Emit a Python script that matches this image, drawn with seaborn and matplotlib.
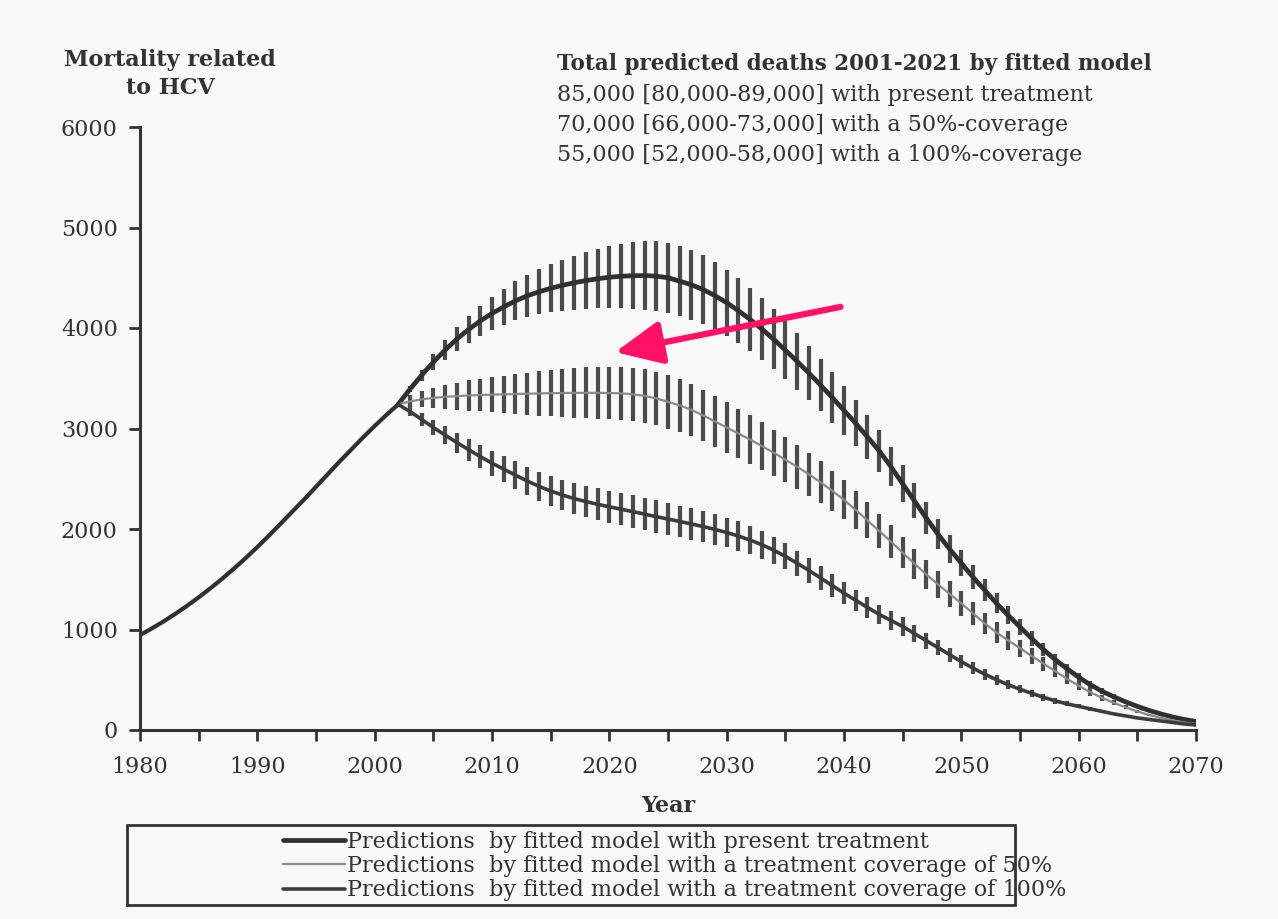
import matplotlib
matplotlib.use("Agg")
import matplotlib.pyplot as plt
from matplotlib.lines import Line2D
from matplotlib.patches import Rectangle
import numpy as np
import pandas as pd
import seaborn as sns

# Observed/fitted mortality before the scenarios diverge
base_years = list(range(1980, 2003))
base_deaths = [945, 1010, 1080, 1155, 1235, 1320, 1410, 1505, 1605, 1710,
               1820, 1935, 2055, 2175, 2295, 2420, 2545, 2670, 2790, 2910,
               3025, 3135, 3240]

# Projection years (one point and one interval per year)
proj_years = list(range(2002, 2071))

present_deaths = [3240, 3390, 3530, 3660, 3780, 3890, 3985, 4070, 4145, 4210,
                  4270, 4320, 4360, 4395, 4425, 4450, 4472, 4490, 4505, 4515,
                  4520, 4522, 4516, 4500, 4466, 4430, 4382, 4322, 4252, 4172,
                  4085, 3990, 3888, 3780, 3668, 3552, 3432, 3308, 3180, 3050,
                  2916, 2778, 2620, 2450, 2280, 2110, 1950, 1800, 1660, 1520,
                  1390, 1260, 1140, 1025, 910, 800, 700, 610, 525, 450,
                  385, 330, 280, 235, 195, 160, 130, 105, 85]
present_err = [0, 30, 55, 80, 100, 118, 135, 150, 165, 180,
               195, 210, 225, 240, 255, 268, 282, 295, 308, 320,
               332, 342, 348, 350, 350, 347, 342, 336, 330, 323,
               316, 308, 300, 291, 282, 272, 262, 251, 240, 229,
               218, 207, 196, 185, 174, 163, 152, 141, 130, 120,
               110, 100, 90, 81, 72, 64, 56, 49, 42, 36,
               30, 25, 20, 16, 13, 10, 8, 6, 4]

cov50_deaths = [3240, 3270, 3290, 3305, 3315, 3322, 3328, 3333, 3337, 3340,
                3343, 3346, 3349, 3351, 3353, 3354, 3355, 3355, 3353, 3350,
                3340, 3325, 3300, 3265, 3230, 3185, 3130, 3070, 3010, 2950,
                2890, 2825, 2760, 2690, 2620, 2545, 2465, 2380, 2290, 2190,
                2085, 1980, 1875, 1765, 1655, 1550, 1450, 1355, 1260, 1160,
                1060, 970, 890, 815, 735, 660, 585, 510, 440, 375,
                320, 270, 225, 185, 150, 120, 95, 75, 60]
cov50_err = [0, 60, 80, 100, 120, 135, 150, 162, 175, 187,
             198, 210, 220, 230, 238, 245, 252, 257, 261, 264,
             266, 267, 267, 266, 264, 261, 257, 253, 249, 245,
             240, 235, 230, 225, 219, 213, 207, 200, 193, 186,
             179, 172, 164, 157, 150, 143, 136, 129, 122, 115,
             108, 100, 92, 84, 76, 68, 60, 52, 45, 38,
             32, 26, 21, 16, 12, 9, 7, 5, 4]

cov100_deaths = [3240, 3170, 3090, 3010, 2935, 2860, 2790, 2720, 2655, 2595,
                 2535, 2478, 2425, 2378, 2338, 2303, 2273, 2246, 2221, 2197,
                 2173, 2148, 2123, 2099, 2075, 2050, 2024, 1996, 1965, 1930,
                 1890, 1843, 1790, 1728, 1660, 1588, 1513, 1437, 1362, 1290,
                 1220, 1150, 1090, 1030, 960, 890, 820, 750, 680, 615,
                 555, 500, 450, 405, 365, 325, 290, 260, 235, 210,
                 185, 160, 140, 120, 105, 90, 75, 60, 50]
cov100_err = [0, 50, 65, 78, 90, 100, 110, 118, 125, 131,
              137, 142, 146, 150, 153, 156, 158, 160, 161, 162,
              162, 162, 161, 160, 158, 156, 154, 151, 148, 145,
              142, 138, 134, 130, 126, 122, 118, 114, 110, 106,
              102, 98, 94, 90, 85, 80, 75, 70, 65, 60,
              55, 50, 45, 40, 36, 32, 28, 24, 20, 17,
              14, 11, 9, 7, 6, 5, 4, 3, 3]

scenario_labels = [
    "Predictions  by fitted model with present treatment",
    "Predictions  by fitted model with a treatment coverage of 50%",
    "Predictions  by fitted model with a treatment coverage of 100%",
]
x_ticks = list(range(1980, 2071, 5))
y_ticks = list(range(0, 6001, 1000))

header_title = "Total predicted deaths 2001-2021 by fitted model"
header_lines = [
    "85,000 [80,000-89,000] with present treatment",
    "70,000 [66,000-73,000] with a 50%-coverage",
    "55,000 [52,000-58,000] with a 100%-coverage",
]

sns.set_style("ticks")
plt.rcParams["font.family"] = ["DejaVu Serif"]

paper = "#f8f8f8"
ink = "#333333"

fig = plt.figure(figsize=(12.78, 9.19), dpi=100, facecolor=paper)
ax = fig.add_axes([140 / 1278, 1 - 730 / 919, 1056 / 1278, 603 / 919])
ax.set_facecolor(paper)

scenarios = [
    (present_deaths, present_err, "#303030", 3.4),
    (cov50_deaths, cov50_err, "#8a8a8a", 1.6),
    (cov100_deaths, cov100_err, "#3c3c3c", 2.6),
]

# Yearly uncertainty intervals, drawn under the lines
for deaths, err, color, lw in scenarios:
    d = np.array(deaths, dtype=float)
    e = np.array(err, dtype=float)
    ax.vlines(proj_years, d - e, d + e, color="#4b4b4b", lw=3.0, zorder=2)

base_df = pd.DataFrame({"year": base_years, "deaths": base_deaths})
sns.lineplot(data=base_df, x="year", y="deaths", ax=ax, color="#303030",
             lw=3.0, zorder=3)

for (deaths, err, color, lw), label in zip(scenarios, scenario_labels):
    df = pd.DataFrame({"year": proj_years, "deaths": deaths})
    sns.lineplot(data=df, x="year", y="deaths", ax=ax, color=color, lw=lw,
                 zorder=3)

ax.set_xlim(1980, 2070)
ax.set_ylim(0, 6000)
ax.set_xticks(x_ticks)
ax.set_xticklabels([str(y) if y % 10 == 0 else "" for y in x_ticks])
ax.set_yticks(y_ticks)
ax.set_yticklabels([str(v) for v in y_ticks])
ax.tick_params(axis="both", length=8, width=2, direction="out", color=ink,
               labelcolor=ink, labelsize=16)
ax.tick_params(axis="x", pad=11)
ax.tick_params(axis="y", pad=8)
for side in ["top", "right"]:
    ax.spines[side].set_visible(False)
for side in ["left", "bottom"]:
    ax.spines[side].set_linewidth(2.2)
    ax.spines[side].set_color(ink)

ax.set_xlabel("Year", fontsize=16, fontweight="bold", color=ink, labelpad=12)
ax.set_ylabel("")

# Arrow pointing at the gap between the scenarios
ax.annotate("", xy=(2020.5, 3760), xytext=(2039.7, 4210),
            arrowprops=dict(arrowstyle="-|>,head_length=2.6,head_width=1.2",
                            mutation_scale=11, lw=4.5, color="#ff1166",
                            shrinkA=0, shrinkB=0), zorder=5)

# Axis title above the y axis
fig.text(170 / 1278, 1 - 74 / 919, "Mortality related\nto HCV", ha="center",
         va="center", fontsize=16, fontweight="bold", color=ink,
         linespacing=1.4)

# Summary of totals
fig.text(557 / 1278, 1 - 64 / 919, header_title, ha="left", va="center",
         fontsize=15.5, fontweight="bold", color=ink)
for i, line in enumerate(header_lines):
    fig.text(557 / 1278, 1 - (95 + 30 * i) / 919, line, ha="left",
             va="center", fontsize=16, color=ink)

# Legend in a separate ruled box
handles = [Line2D([], [], color=c, lw=lw) for _, _, c, lw in scenarios]
fig.legend(handles, scenario_labels, loc="upper left",
           bbox_to_anchor=(283 / 1278, 1 - 831 / 919), frameon=False,
           borderpad=0, borderaxespad=0, handlelength=2.8,
           handletextpad=0.1, labelspacing=0.1, fontsize=16,
           labelcolor=ink)
fig.patches.append(Rectangle((127 / 1278, 1 - 905 / 919), 888 / 1278,
                             80 / 919, transform=fig.transFigure, fill=False,
                             lw=2, ec=ink))

fig.savefig("out.png", dpi=100, facecolor=paper)
